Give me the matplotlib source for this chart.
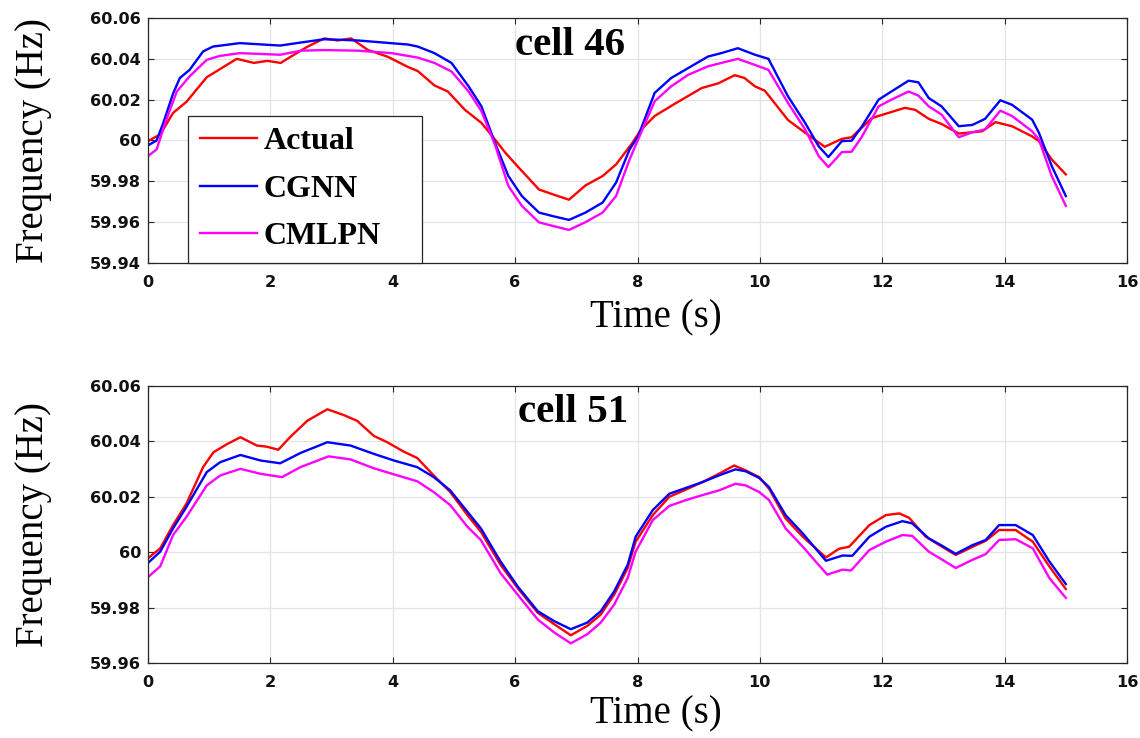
import matplotlib
matplotlib.use("Agg")
import matplotlib.pyplot as plt
from matplotlib.ticker import FixedLocator, FuncFormatter

# ---- cell 46 ----
c46_actual_t = [0, 0.2, 0.41, 0.63, 0.96, 1.45, 1.73, 1.95, 2.17, 2.33, 2.61, 2.88, 3.1, 3.32, 3.59,
                3.92, 4.25, 4.41, 4.68, 4.9, 5.18, 5.45, 5.67, 5.84, 6.06, 6.39, 6.61, 6.88, 7.15, 7.43,
                7.65, 7.92, 8.05, 8.28, 8.61, 9.05, 9.32, 9.59, 9.75, 9.92, 10.08, 10.25, 10.46, 10.74,
                11.06, 11.34, 11.5, 11.83, 12.1, 12.37, 12.54, 12.76, 12.97, 13.25, 13.63, 13.85, 14.12,
                14.45, 14.56, 14.77, 15.0]
c46_actual = [59.9997, 60.003, 60.0135, 60.019, 60.031, 60.040, 60.038, 60.039, 60.038, 60.041, 60.046,
              60.050, 60.049, 60.050, 60.0444, 60.041, 60.036, 60.034, 60.027, 60.024, 60.015, 60.0086,
              60.0005, 59.994, 59.9867, 59.976, 59.9737, 59.971, 59.978, 59.9826, 59.9883, 59.999,
              60.005, 60.012, 60.018, 60.0257, 60.028, 60.032, 60.0306, 60.0265, 60.0244, 60.018, 60.010,
              60.0038, 59.9969, 60.0008, 60.0016, 60.011, 60.0135, 60.016, 60.015, 60.0106, 60.0081,
              60.0034, 60.0045, 60.009, 60.007, 60.002, 59.9997, 59.9907, 59.9834]

c46_cgnn_t = [0, 0.14, 0.25, 0.41, 0.52, 0.68, 0.9, 1.06, 1.5, 2.16, 2.5, 2.88, 3.43, 4.25, 4.41, 4.68,
              4.96, 5.24, 5.45, 5.67, 5.89, 6.11, 6.39, 6.61, 6.88, 7.15, 7.43, 7.65, 7.87, 8.01, 8.28,
              8.55, 8.83, 9.15, 9.37, 9.64, 9.92, 10.14, 10.46, 10.74, 10.96, 11.12, 11.34, 11.5, 11.67,
              11.94, 12.15, 12.43, 12.59, 12.76, 12.97, 13.25, 13.47, 13.68, 13.93, 14.12, 14.45, 14.56,
              14.77, 15.0]
c46_cgnn = [59.9976, 60.000, 60.0086, 60.023, 60.0306, 60.0346, 60.0436, 60.046, 60.0477, 60.0465, 60.048,
            60.0496, 60.049, 60.047, 60.046, 60.0428, 60.038, 60.0265, 60.0167, 59.9989, 59.9826, 59.9728,
            59.9647, 59.963, 59.9611, 59.9647, 59.9696, 59.9794, 59.9956, 60.002, 60.0233, 60.0306,
            60.0355, 60.0411, 60.0428, 60.0452, 60.042, 60.040, 60.0216, 60.0086, 59.9972, 59.9919,
            59.9997, 59.9999, 60.007, 60.020, 60.024, 60.0293, 60.0285, 60.0208, 60.0167, 60.007,
            60.0076, 60.0106, 60.0197, 60.0175, 60.0102, 60.0038, 59.9875, 59.9728]

c46_cmlpn_t = [0, 0.14, 0.3, 0.47, 0.68, 0.96, 1.17, 1.5, 2.16, 2.5, 2.88, 3.43, 3.98, 4.41, 4.68, 4.96,
               5.24, 5.45, 5.67, 5.89, 6.11, 6.39, 6.61, 6.88, 7.15, 7.43, 7.65, 7.87, 8.01, 8.28, 8.55,
               8.83, 9.15, 9.37, 9.64, 9.92, 10.14, 10.46, 10.74, 10.96, 11.12, 11.34, 11.5, 11.67, 11.94,
               12.15, 12.43, 12.59, 12.76, 12.97, 13.25, 13.47, 13.68, 13.93, 14.12, 14.45, 14.56, 14.77,
               15.0]
c46_cmlpn = [59.9924, 59.9956, 60.0102, 60.024, 60.0314, 60.0395, 60.0414, 60.0428, 60.042, 60.044,
             60.0443, 60.044, 60.0428, 60.0406, 60.038, 60.0338, 60.024, 60.0143, 59.998, 59.9777,
             59.968, 59.9599, 59.9582, 59.9562, 59.960, 59.9647, 59.9728, 59.9907, 60.0005, 60.0192,
             60.0265, 60.0322, 60.0363, 60.038, 60.040, 60.037, 60.0346, 60.0184, 60.0054, 59.9924,
             59.987, 59.9943, 59.9945, 60.002, 60.0167, 60.020, 60.024, 60.022, 60.0167, 60.0127,
             60.0016, 60.004, 60.0054, 60.0146, 60.012, 60.0045, 60.0005, 59.9826, 59.968]

# ---- cell 51 ----
c51_actual_t = [0, 0.2, 0.41, 0.63, 0.9, 1.07, 1.29, 1.51, 1.78, 1.94, 2.13, 2.32, 2.6, 2.93, 3.2, 3.42,
                3.69, 3.91, 4.18, 4.4, 4.67, 4.94, 5.22, 5.44, 5.76, 6.04, 6.37, 6.64, 6.91, 7.18, 7.4,
                7.62, 7.84, 7.97, 8.25, 8.52, 8.79, 9.06, 9.33, 9.58, 9.77, 9.99, 10.15, 10.42, 10.7,
                11.08, 11.29, 11.46, 11.79, 12.06, 12.28, 12.44, 12.71, 12.93, 13.2, 13.48, 13.69, 13.91,
                14.18, 14.46, 14.73, 15.0]
c51_actual = [59.9978, 60.0014, 60.0098, 60.0176, 60.0307, 60.0361, 60.039, 60.0415, 60.0385, 60.0381,
              60.037, 60.0415, 60.0474, 60.0516, 60.0495, 60.0474, 60.042, 60.0397, 60.0363, 60.034,
              60.0277, 60.0217, 60.0134, 60.0074, 59.9955, 59.9871, 59.9781, 59.974, 59.970, 59.9734,
              59.9775, 59.9847, 59.9943, 60.0038, 60.0134, 60.020, 60.0226, 60.0253, 60.0283, 60.0313,
              60.0295, 60.0271, 60.0229, 60.0122, 60.0056, 59.9981, 60.0012, 60.002, 60.0098, 60.0134,
              60.014, 60.0124, 60.0056, 60.0026, 59.999, 60.002, 60.0041, 60.008, 60.008, 60.0038,
              59.9949, 59.9867]

c51_cgnn_t = [0, 0.2, 0.41, 0.63, 0.96, 1.18, 1.51, 1.84, 2.16, 2.49, 2.93, 3.31, 3.69, 4.02, 4.4, 4.67,
              4.94, 5.22, 5.44, 5.76, 6.04, 6.37, 6.64, 6.91, 7.18, 7.4, 7.62, 7.84, 7.97, 8.25, 8.52,
              8.79, 9.06, 9.33, 9.6, 9.77, 9.99, 10.15, 10.42, 10.7, 11.08, 11.35, 11.51, 11.79, 12.06,
              12.33, 12.49, 12.76, 12.98, 13.2, 13.48, 13.69, 13.91, 14.18, 14.46, 14.73, 15.0]
c51_cgnn = [59.9961, 60.0002, 60.0086, 60.0164, 60.0289, 60.0325, 60.0351, 60.0331, 60.0321, 60.0358,
            60.0397, 60.0385, 60.0355, 60.0331, 60.0307, 60.0271, 60.0223, 60.0146, 60.0086, 59.9967,
            59.9877, 59.9787, 59.9751, 59.9722, 59.9746, 59.9787, 59.9859, 59.9955, 60.0056, 60.0152,
            60.0211, 60.0232, 60.0253, 60.0277, 60.0299, 60.0292, 60.0268, 60.0235, 60.0134, 60.0068,
            59.9969, 59.9988, 59.9987, 60.0056, 60.0092, 60.0112, 60.0104, 60.005, 60.0023, 59.9994,
            60.0026, 60.0044, 60.0098, 60.0098, 60.0062, 59.9967, 59.9885]

c51_cmlpn_t = [0, 0.2, 0.41, 0.63, 0.96, 1.18, 1.51, 1.84, 2.19, 2.49, 2.95, 3.31, 3.69, 4.02, 4.4, 4.67,
               4.94, 5.22, 5.44, 5.76, 6.04, 6.37, 6.64, 6.91, 7.18, 7.4, 7.62, 7.84, 7.97, 8.25, 8.52,
               8.79, 9.06, 9.33, 9.6, 9.77, 9.99, 10.15, 10.42, 10.7, 11.1, 11.35, 11.49, 11.79, 12.06,
               12.33, 12.49, 12.76, 12.98, 13.2, 13.48, 13.69, 13.91, 14.18, 14.46, 14.73, 15.0]
c51_cmlpn = [59.991, 59.9949, 60.0062, 60.0128, 60.0241, 60.0277, 60.0301, 60.0283, 60.0271, 60.0307,
             60.0346, 60.0335, 60.0303, 60.0281, 60.0256, 60.0217, 60.017, 60.0092, 60.0044, 59.9925,
             59.9847, 59.9757, 59.971, 59.9671, 59.9704, 59.9746, 59.9811, 59.9907, 60.0002, 60.0116,
             60.0167, 60.0188, 60.0206, 60.0223, 60.0247, 60.0241, 60.0217, 60.0188, 60.0086, 60.002,
             59.9919, 59.9937, 59.9934, 60.0008, 60.0038, 60.0062, 60.0059, 60.0002, 59.9973, 59.9943,
             59.9973, 59.9993, 60.0044, 60.0047, 60.0014, 59.9907, 59.9835]

series_names = ["Actual", "CGNN", "CMLPN"]
series_colors = ["#ff0000", "#0000ff", "#ff00ff"]
x_ticks = [0, 2, 4, 6, 8, 10, 12, 14, 16]
y_ticks_46 = [59.94, 59.96, 59.98, 60.00, 60.02, 60.04, 60.06]
y_ticks_51 = [59.96, 59.98, 60.00, 60.02, 60.04, 60.06]

SERIF = "Liberation Serif"
AX_COLOR = "#262626"

fig = plt.figure(figsize=(11.4, 7.38), dpi=100)
ax_top = fig.add_axes([148 / 1140, 1 - 263 / 738, 979 / 1140, 245 / 738])
ax_bot = fig.add_axes([148 / 1140, 1 - 663 / 738, 979 / 1140, 277 / 738])


def fmt_tick(v, _pos):
    return "%g" % round(v, 2)


def style_axes(ax, yticks):
    ax.set_xlim(x_ticks[0], x_ticks[-1])
    ax.set_ylim(yticks[0], yticks[-1])
    ax.xaxis.set_major_locator(FixedLocator(x_ticks))
    ax.yaxis.set_major_locator(FixedLocator(yticks))
    ax.yaxis.set_major_formatter(FuncFormatter(fmt_tick))
    ax.xaxis.set_major_formatter(FuncFormatter(fmt_tick))
    ax.grid(True, color="#e3e3e3", linewidth=0.9)
    ax.set_axisbelow(True)
    for sp in ax.spines.values():
        sp.set_color(AX_COLOR)
        sp.set_linewidth(0.9)
    ax.tick_params(axis="both", direction="in", length=4.5, width=0.8, color=AX_COLOR,
                   top=True, right=True, labelcolor="#111111")
    ax.tick_params(axis="x", pad=8.5)
    ax.tick_params(axis="y", pad=5)
    for lab in ax.get_xticklabels() + ax.get_yticklabels():
        lab.set_fontfamily("DejaVu Sans")
        lab.set_fontweight("bold")
        lab.set_fontsize(11.6)
    ax.set_ylabel("Frequency (Hz)", fontfamily=SERIF, fontsize=28)
    ax.set_xlabel("Time (s)", fontfamily=SERIF, fontsize=28)
    ax.yaxis.set_label_coords(-0.098, 0.5)


panels = [
    (ax_top, y_ticks_46, "cell 46", (6.0, 60.042),
     [(c46_actual_t, c46_actual), (c46_cgnn_t, c46_cgnn), (c46_cmlpn_t, c46_cmlpn)]),
    (ax_bot, y_ticks_51, "cell 51", (6.05, 60.047),
     [(c51_actual_t, c51_actual), (c51_cgnn_t, c51_cgnn), (c51_cmlpn_t, c51_cmlpn)]),
]

for ax, yt, title, pos, data in panels:
    style_axes(ax, yt)
    for (t, v), name, col in zip(data, series_names, series_colors):
        ax.plot(t, v, color=col, linewidth=1.7, label=name, solid_joinstyle="round")
    ax.text(pos[0], pos[1], title, fontfamily=SERIF, fontweight="bold", fontsize=29.5,
            ha="left", va="baseline")

ax_top.xaxis.set_label_coords(0.519, -0.15)
ax_bot.xaxis.set_label_coords(0.519, -0.118)

leg = ax_top.legend(loc="lower left", bbox_to_anchor=(0.041, 0.0, 0.239, 0.6), mode="expand",
                    borderaxespad=0, prop={"family": SERIF, "weight": "bold", "size": 23},
                    handlelength=1.8, handletextpad=0.2, borderpad=0.36, labelspacing=0.57,
                    fancybox=False, framealpha=1, edgecolor=AX_COLOR)
leg.get_frame().set_linewidth(0.9)
leg.set_zorder(5)

fig.savefig("out.png", dpi=100)
